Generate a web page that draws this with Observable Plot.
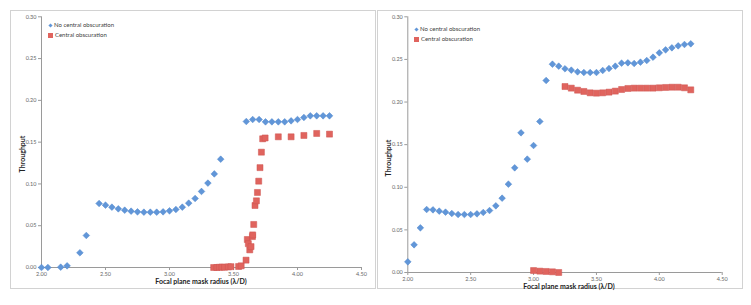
<!DOCTYPE html>
<html><head><meta charset="utf-8">
<script src="https://cdn.jsdelivr.net/npm/d3@7"></script>
<script src="https://cdn.jsdelivr.net/npm/@observablehq/plot@0.6"></script>
<style>
body{margin:0;background:#fff;font-family:Lato,"Open Sans",sans-serif;}
#wrap{position:relative;width:751px;height:305px;overflow:hidden;}
.frame{position:absolute;border:1.5px solid #d2d2d2;box-sizing:border-box;}
.chart{position:absolute;}
.leg{position:absolute;font-size:6px;line-height:7px;color:#404040;white-space:nowrap;}
.sw{display:inline-block;vertical-align:middle;margin-right:2px;}
.xt{position:absolute;font-size:7px;line-height:7px;font-weight:bold;color:#222;white-space:nowrap;transform:translateX(-50%);}
.yt{position:absolute;font-size:7px;line-height:7px;font-weight:bold;color:#222;white-space:nowrap;transform:translate(-50%,-50%) rotate(-90deg);}
</style></head><body>
<div id="wrap"></div>
<script>
// ---- data: left panel ----
const blueLx = [2.00,2.05,2.15,2.20,2.30,2.35,2.45,2.50,2.55,2.60,2.65,2.70,2.75,2.80,2.85,2.90,2.95,3.00,3.05,3.10,3.15,3.20,3.25,3.30,3.35,3.40,3.60,3.65,3.70,3.75,3.80,3.85,3.90,3.95,4.00,4.05,4.10,4.15,4.20,4.25];
const blueLy = [0,0,0.0004,0.002,0.0176,0.0383,0.0766,0.0746,0.0722,0.0702,0.0686,0.0674,0.0666,0.0662,0.0662,0.0662,0.0666,0.0678,0.0694,0.0722,0.077,0.0826,0.091,0.101,0.112,0.1296,0.1747,0.1771,0.1771,0.1743,0.1743,0.1743,0.1743,0.1755,0.1771,0.1795,0.1815,0.1815,0.1815,0.1815];
const redLx = [3.345,3.37,3.39,3.41,3.43,3.46,3.48,3.54,3.56,3.598,3.608,3.616,3.627,3.637,3.648,3.650,3.658,3.668,3.679,3.687,3.697,3.707,3.718,3.728,3.747,3.85,3.95,4.05,4.15,4.25];
const redLy = [0,0,0.0003,0.0005,0.0003,0.0008,0.001,0.0012,0.002,0.0088,0.0335,0.0285,0.0211,0.025,0.037,0.039,0.0515,0.0742,0.0798,0.0898,0.1033,0.1195,0.138,0.154,0.155,0.1564,0.1564,0.158,0.1604,0.1596];
// ---- data: right panel ----
const blueRx = [2.00,2.05,2.10,2.15,2.20,2.25,2.30,2.35,2.40,2.45,2.50,2.55,2.60,2.65,2.70,2.75,2.80,2.85,2.90,2.95,3.00,3.05,3.10,3.15,3.20,3.25,3.30,3.35,3.40,3.45,3.50,3.55,3.60,3.65,3.70,3.75,3.80,3.85,3.90,3.95,4.00,4.05,4.10,4.15,4.20,4.25];
const blueRy = [0.0125,0.0325,0.0524,0.0739,0.0735,0.072,0.0708,0.0692,0.068,0.068,0.068,0.0688,0.0704,0.0727,0.0782,0.0872,0.1036,0.1228,0.1639,0.133,0.149,0.1772,0.2253,0.2444,0.2421,0.239,0.2374,0.2354,0.2346,0.2346,0.2346,0.237,0.2393,0.2421,0.2456,0.246,0.2452,0.2468,0.2487,0.2526,0.2577,0.2612,0.2636,0.2659,0.2675,0.2683];
const redRx = [3.00,3.05,3.10,3.15,3.20,3.25,3.30,3.35,3.40,3.45,3.50,3.55,3.60,3.65,3.70,3.75,3.80,3.85,3.90,3.95,4.00,4.05,4.10,4.15,4.20,4.25];
const redRy = [0.0023,0.0016,0.0012,0.0008,0,0.2182,0.2163,0.2139,0.2124,0.2108,0.2104,0.2108,0.2116,0.2128,0.2147,0.2159,0.2163,0.2163,0.2163,0.2163,0.2167,0.2171,0.2174,0.2174,0.2167,0.2143];
// ---- ticks / labels ----
const xTicks = [2.0,2.5,3.0,3.5,4.0,4.5];
const yTicks = [0,0.05,0.10,0.15,0.20,0.25,0.30];
const seriesNames = ["No central obscuration","Central obscuration"];
const xTitle = "Focal plane mask radius (λ/D)";
const yTitle = "Throughput";

const BLUE = "#6196d8", RED = "#e0645e";
const toRows = (xs, ys) => xs.map((x,i)=>({x, y: ys[i]}));

function panel(cfg){
  const wrap = document.getElementById("wrap");
  const fr = document.createElement("div");
  fr.className="frame";
  Object.assign(fr.style,{left:cfg.left+"px",top:cfg.top+"px",width:cfg.w+"px",height:cfg.h+"px"});
  wrap.appendChild(fr);
  const chart = Plot.plot({
    width: cfg.w, height: cfg.h,
    marginLeft: cfg.ml, marginRight: cfg.mr, marginTop: cfg.mt, marginBottom: cfg.mb,
    style:{fontFamily:"Lato, 'Open Sans', sans-serif", fontSize:"5.5px", color:"#666", background:"transparent"},
    x:{domain:[2,4.5]},
    y:{domain:[0,0.30]},
    marks:[
      Plot.ruleX([2],{stroke:"#9a9a9a",strokeWidth:1}),
      Plot.ruleY([0],{stroke:"#9a9a9a",strokeWidth:1}),
      Plot.axisX({ticks:xTicks,tickFormat:d3.format(".2f"),tickSize:3,tickPadding:1.5,stroke:"#9a9a9a",label:null}),
      Plot.axisY({ticks:yTicks,tickFormat:d3.format(".2f"),tickSize:3,tickPadding:2,stroke:"#9a9a9a",label:null}),
      Plot.dot(toRows(cfg.rx,cfg.ry),{x:"x",y:"y",symbol:"square",r:3.4,fill:RED,stroke:"#cf5550",strokeWidth:0.5}),
      Plot.dot(toRows(cfg.bx,cfg.by),{x:"x",y:"y",symbol:"diamond2",r:3.0,fill:BLUE,stroke:"#4f86cc",strokeWidth:0.5})
    ]
  });
  chart.classList.add("chart");
  Object.assign(chart.style,{left:cfg.left+"px",top:cfg.top+"px"});
  wrap.appendChild(chart);
  // axis titles
  const xt=document.createElement("div"); xt.className="xt"; xt.textContent=xTitle;
  Object.assign(xt.style,{left:cfg.xtX+"px",top:cfg.xtY+"px"}); wrap.appendChild(xt);
  const yt=document.createElement("div"); yt.className="yt"; yt.textContent=yTitle;
  Object.assign(yt.style,{left:cfg.ytX+"px",top:cfg.ytY+"px"}); wrap.appendChild(yt);
  // legend
  [[BLUE,"diamond"],[RED,"square"]].forEach(([c,s],i)=>{
    const d=document.createElement("div"); d.className="leg";
    Object.assign(d.style,{left:cfg.legX+"px",top:(cfg.legY+i*10)+"px"});
    const sw=document.createElement("span"); sw.className="sw";
    if(s==="square"){Object.assign(sw.style,{width:"5px",height:"5px",background:c});}
    else{Object.assign(sw.style,{width:"3px",height:"3px",background:c,transform:"rotate(45deg)",margin:"0 2px 0 1px"});}
    d.appendChild(sw); d.appendChild(document.createTextNode(seriesNames[i]));
    wrap.appendChild(d);
  });
}

panel({left:10,top:10,w:366,h:279,ml:31,mr:15,mt:6.3,mb:22,
  bx:blueLx,by:blueLy,rx:redLx,ry:redLy,
  xtX:201,xtY:278,ytX:22,ytY:154,legX:48,legY:21});
panel({left:377,top:10,w:366,h:279,ml:30.3,mr:21.3,mt:6.3,mb:17,
  bx:blueRx,by:blueRy,rx:redRx,ry:redRy,
  xtX:569,xtY:282.5,ytX:388,ytY:158,legX:414,legY:25});
</script>
</body></html>
